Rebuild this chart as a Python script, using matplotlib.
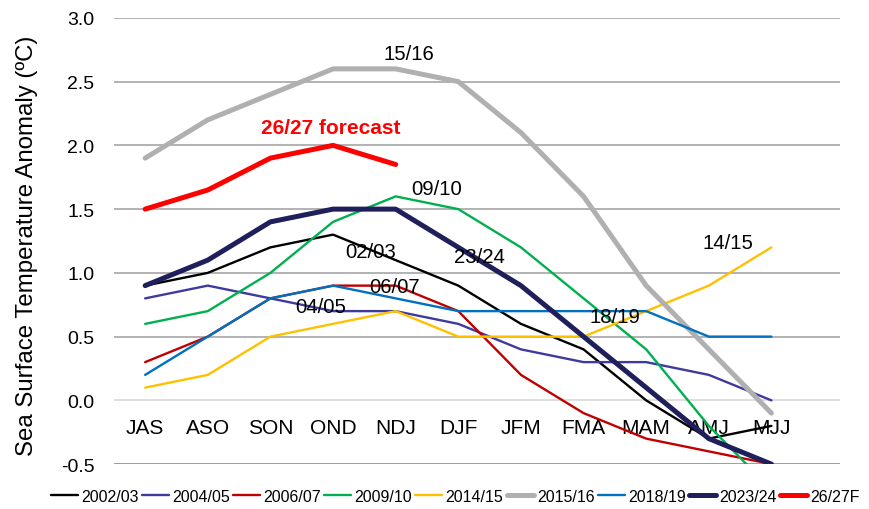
import matplotlib
matplotlib.use("Agg")
import matplotlib.pyplot as plt

plt.rcParams['font.family'] = ['Liberation Sans', 'DejaVu Sans']

seasons = ["JAS", "ASO", "SON", "OND", "NDJ", "DJF", "JFM", "FMA", "MAM", "AMJ", "MJJ"]

s2002_03 = [0.9, 1.0, 1.2, 1.3, 1.1, 0.9, 0.6, 0.4, 0.0, -0.3, -0.2]
s2004_05 = [0.8, 0.9, 0.8, 0.7, 0.7, 0.6, 0.4, 0.3, 0.3, 0.2, 0.0]
s2006_07 = [0.3, 0.5, 0.8, 0.9, 0.9, 0.7, 0.2, -0.1, -0.3, -0.4, -0.5]
s2009_10 = [0.6, 0.7, 1.0, 1.4, 1.6, 1.5, 1.2, 0.8, 0.4, -0.2, -0.7]
s2014_15 = [0.1, 0.2, 0.5, 0.6, 0.7, 0.5, 0.5, 0.5, 0.7, 0.9, 1.2]
s2015_16 = [1.9, 2.2, 2.4, 2.6, 2.6, 2.5, 2.1, 1.6, 0.9, 0.4, -0.1]
s2018_19 = [0.2, 0.5, 0.8, 0.9, 0.8, 0.7, 0.7, 0.7, 0.7, 0.5, 0.5]
s2023_24 = [0.9, 1.1, 1.4, 1.5, 1.5, 1.2, 0.9, 0.5, 0.1, -0.3, -0.5]
s2026_27F = [1.5, 1.65, 1.9, 2.0, 1.85]

series_names = ["2002/03", "2004/05", "2006/07", "2009/10", "2014/15",
                "2015/16", "2018/19", "2023/24", "26/27F"]
series_values = [s2002_03, s2004_05, s2006_07, s2009_10, s2014_15,
                 s2015_16, s2018_19, s2023_24, s2026_27F]
colors = ["#000000", "#3F3A9E", "#C00000", "#00B050", "#FFC000",
          "#B0B0B0", "#0070C0", "#1F1F5C", "#FF0000"]
widths = [1.7, 1.7, 1.7, 1.7, 1.7, 3.6, 1.7, 3.6, 3.6]

yticks = [-0.5, 0.0, 0.5, 1.0, 1.5, 2.0, 2.5, 3.0]

fig = plt.figure(figsize=(8.69, 5.10), dpi=100)
ax = fig.add_axes([0.131, 0.088, 0.836, 0.875])

x = list(range(len(seasons)))
for name, vals, c, w in zip(series_names, series_values, colors, widths):
    ax.plot(x[:len(vals)], vals, color=c, lw=w, label=name,
            solid_capstyle='round', solid_joinstyle='round')

ax.set_ylim(-0.5, 3.0)
ax.set_xlim(-0.5, 11.1)
ax.set_yticks(yticks)
ax.set_yticklabels([f"{v:.1f}" for v in yticks], fontsize=14)
for v in yticks:
    if v == 0.0:
        col = "#D9D9D9"
    elif v == -0.5:
        col = "#8C8C8C"
    else:
        col = "#A6A6A6"
    ax.axhline(v, color=col, lw=1.2, zorder=0)

for sp in ax.spines.values():
    sp.set_visible(False)
ax.spines['bottom'].set_position(('data', 0))
ax.set_xticks(x)
ax.set_xticklabels(seasons, fontsize=15)
ax.tick_params(axis='x', length=0, pad=13)
ax.tick_params(axis='y', length=0, pad=14)
ax.set_ylabel("Sea Surface Temperature Anomaly (ºC)", fontsize=17.3)
ax.yaxis.set_label_coords(-0.105, 0.492)

ann = [("15/16", 4.21, 2.72, "black", "normal"),
       ("26/27 forecast", 2.96, 2.14, "#FF0000", "bold"),
       ("09/10", 4.65, 1.66, "black", "normal"),
       ("02/03", 3.6, 1.17, "black", "normal"),
       ("06/07", 3.98, 0.89, "black", "normal"),
       ("04/05", 2.8, 0.74, "black", "normal"),
       ("23/24", 5.33, 1.13, "black", "normal"),
       ("18/19", 7.5, 0.66, "black", "normal"),
       ("14/15", 9.3, 1.24, "black", "normal")]
for txt, xx, yy, c, fw in ann:
    ax.text(xx, yy, txt, color=c, fontsize=14.7 if fw == "normal" else 15,
            fontweight=fw, ha='center', va='center')

ax.legend(loc='center', bbox_to_anchor=(0.47, -0.072), ncol=9, frameon=False,
          fontsize=11.5, handlelength=1.7, handletextpad=0.2, columnspacing=0.2,
          borderaxespad=0)

fig.savefig("out.png", dpi=100)
